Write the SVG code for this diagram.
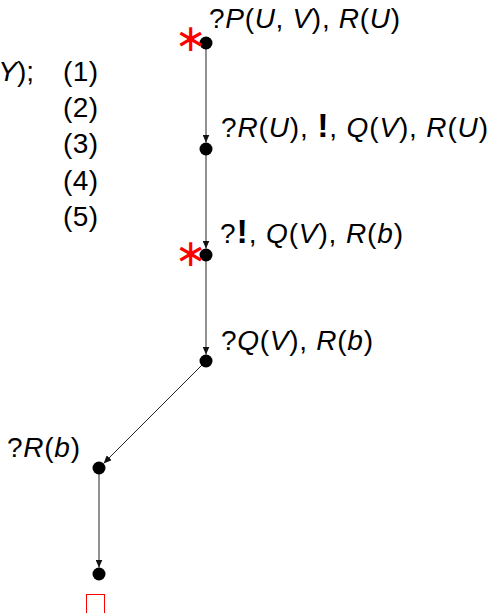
<svg xmlns="http://www.w3.org/2000/svg" width="493" height="613" viewBox="0 0 493 613">
<defs>
<marker id="arr" markerUnits="userSpaceOnUse" markerWidth="8" markerHeight="7" refX="8" refY="3.5" orient="auto">
<path d="M0,0 L8,3.5 L0,7 z" fill="#111"/>
</marker>
<style>
text{font-family:"Liberation Sans",Arial,sans-serif;font-size:28px;fill:#000}
.i{font-style:italic}
.big{font-size:34px;font-weight:bold}
.star{fill:#ff0000;font-size:38px;font-family:"DejaVu Sans",sans-serif}
.dot{fill:#000}
.edge{stroke:#222;stroke-width:1;fill:none;marker-end:url(#arr)}
</style>
</defs>
<rect width="493" height="613" fill="#fff"/>
<g id="program">
<text x="34" y="81" text-anchor="end"><tspan class="i">Y</tspan>);</text>
<text x="63" y="81" textLength="35">(1)</text>
<text x="63" y="117" textLength="35">(2)</text>
<text x="63" y="153" textLength="35">(3)</text>
<text x="63" y="190" textLength="35">(4)</text>
<text x="63" y="226" textLength="35">(5)</text>
</g>
<g id="connectors">
<line class="edge" x1="206" y1="49" x2="206" y2="142.5"/>
<line class="edge" x1="206" y1="155" x2="206" y2="248.5"/>
<line class="edge" x1="206" y1="261" x2="206" y2="354.5"/>
<line class="edge" x1="201.8" y1="365.2" x2="103.6" y2="463.4"/>
<line class="edge" x1="99" y1="474" x2="99" y2="567.5"/>
</g>
<g id="n1">
<circle class="dot" cx="206" cy="43" r="6.5"/>
<text class="star" x="191" y="51" text-anchor="middle">∗</text>
<text x="209" y="28" textLength="191">?<tspan class="i">P</tspan>(<tspan class="i">U</tspan>, <tspan class="i">V</tspan>), <tspan class="i">R</tspan>(<tspan class="i">U</tspan>)</text>
</g>
<g id="n2">
<circle class="dot" cx="206" cy="149" r="6.5"/>
<text x="221" y="137" textLength="267">?<tspan class="i">R</tspan>(<tspan class="i">U</tspan>), <tspan class="big">!</tspan>, <tspan class="i">Q</tspan>(<tspan class="i">V</tspan>), <tspan class="i">R</tspan>(<tspan class="i">U</tspan>)</text>
</g>
<g id="n3">
<circle class="dot" cx="206" cy="255" r="6.5"/>
<text class="star" x="191" y="266" text-anchor="middle">∗</text>
<text x="220" y="243" textLength="183">?<tspan class="big">!</tspan>, <tspan class="i">Q</tspan>(<tspan class="i">V</tspan>), <tspan class="i">R</tspan>(<tspan class="i">b</tspan>)</text>
</g>
<g id="n4">
<circle class="dot" cx="206" cy="361" r="6.5"/>
<text x="221" y="350" textLength="152">?<tspan class="i">Q</tspan>(<tspan class="i">V</tspan>), <tspan class="i">R</tspan>(<tspan class="i">b</tspan>)</text>
</g>
<g id="n5">
<circle class="dot" cx="99" cy="468" r="6.5"/>
<text x="7" y="457" textLength="73">?<tspan class="i">R</tspan>(<tspan class="i">b</tspan>)</text>
</g>
<g id="n6">
<circle class="dot" cx="99" cy="574" r="6.5"/>
<rect x="86.5" y="594.5" width="18" height="19" fill="none" stroke="#ff0000" stroke-width="1"/>
</g>
</svg>
